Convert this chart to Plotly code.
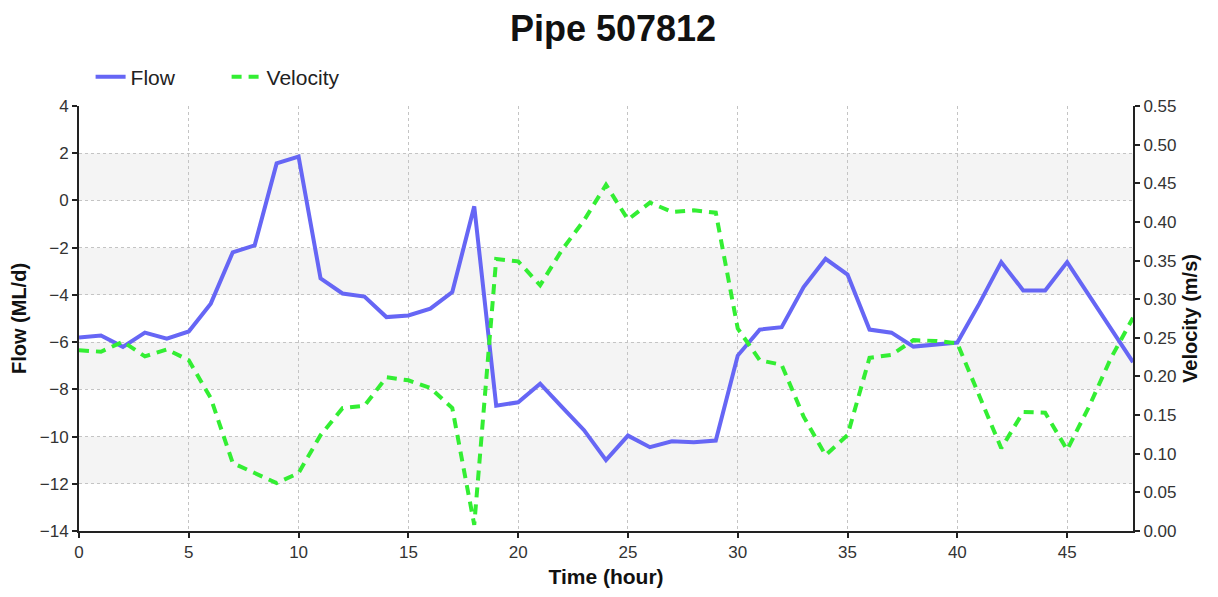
import plotly.graph_objects as go

hours = list(range(49))
flow = [-5.8, -5.72, -6.2, -5.6, -5.85, -5.55, -4.37, -2.2, -1.9, 1.57, 1.86,
        -3.3, -3.94, -4.07, -4.94, -4.87, -4.58, -3.88, -0.25, -8.69, -8.55,
        -7.76, -8.75, -9.73, -11.0, -9.96, -10.45, -10.2, -10.24, -10.17, -6.57,
        -5.47, -5.37, -3.67, -2.47, -3.14, -5.47, -5.6, -6.19, -6.1, -6.02,
        -4.37, -2.61, -3.81, -3.81, -2.61, -4.0, -5.4, -6.85]
velocity = [0.234, 0.232, 0.245, 0.226, 0.235, 0.221, 0.172, 0.088, 0.075, 0.062, 0.075,
            0.124, 0.159, 0.162, 0.199, 0.195, 0.185, 0.159, 0.008, 0.352, 0.349,
            0.318, 0.364, 0.402, 0.448, 0.403, 0.425, 0.413, 0.415, 0.412, 0.262,
            0.221, 0.215, 0.148, 0.098, 0.124, 0.224, 0.228, 0.247, 0.246, 0.243,
            0.174, 0.107, 0.154, 0.153, 0.105, 0.161, 0.224, 0.276]

flow_ticks = [4, 2, 0, -2, -4, -6, -8, -10, -12, -14]
vel_ticks = [round(0.05 * i, 2) for i in range(12)]
x_ticks = [0, 5, 10, 15, 20, 25, 30, 35, 40, 45]

FONT = "Liberation Sans, Arial, sans-serif"

fig = go.Figure()
fig.add_trace(go.Scatter(x=hours, y=flow, name="Flow", mode="lines",
                         line=dict(color="#6666f5", width=4), yaxis="y"))
fig.add_trace(go.Scatter(x=hours, y=velocity, name="Velocity", mode="lines",
                         line=dict(color="#33ee33", width=4, dash="10px,7px"), yaxis="y2"))

# alternating background bands between left-axis gridlines
shapes = []
for i in range(1, len(flow_ticks) - 1, 2):
    shapes.append(dict(type="rect", xref="paper", yref="y", x0=0, x1=1,
                       y0=flow_ticks[i], y1=flow_ticks[i + 1],
                       fillcolor="#f4f4f4", line=dict(width=0), layer="below"))

axis_common = dict(showline=True, linecolor="#222", linewidth=2,
                   ticks="outside", ticklen=5, tickcolor="#222", tickwidth=1.5,
                   zeroline=False, tickfont=dict(size=17, color="#333"), automargin=False)

fig.update_layout(
    width=1210, height=589,
    margin=dict(l=71, r=85, t=98, b=66),
    paper_bgcolor="white", plot_bgcolor="white",
    font=dict(family=FONT, size=17, color="#222"),
    title=dict(text="<b>Pipe 507812</b>", x=0.5, xanchor="center", y=0.966, yanchor="middle",
               font=dict(family=FONT, size=36, color="#111")),
    showlegend=True,
    legend=dict(orientation="h", x=0.011, xanchor="left", y=1.068, yanchor="middle",
                font=dict(family=FONT, size=21, color="#222"),
                bgcolor="rgba(0,0,0,0)", itemwidth=30,
                entrywidth=91, entrywidthmode="pixels"),
    shapes=shapes,
    xaxis=dict(range=[0, 48], tickvals=x_ticks,
               showgrid=True, gridcolor="#c4c4c4", griddash="dot", gridwidth=1,
               title=dict(text="<b>Time (hour)</b>", font=dict(size=21, color="#111"), standoff=8),
               **axis_common),
    yaxis=dict(range=[-14, 4], tickvals=flow_ticks,
               showgrid=True, gridcolor="#c4c4c4", griddash="dot", gridwidth=1,
               title=dict(text="<b>Flow (ML/d)</b>", font=dict(size=20, color="#111"), standoff=10),
               **axis_common),
    yaxis2=dict(range=[0, 0.55], tickvals=vel_ticks, tickformat=".2f", overlaying="y", side="right",
                showgrid=False,
                title=dict(text="<b>Velocity (m/s)</b>", font=dict(size=20, color="#111"), standoff=8),
                **axis_common),
)

fig.write_html("out.html")
